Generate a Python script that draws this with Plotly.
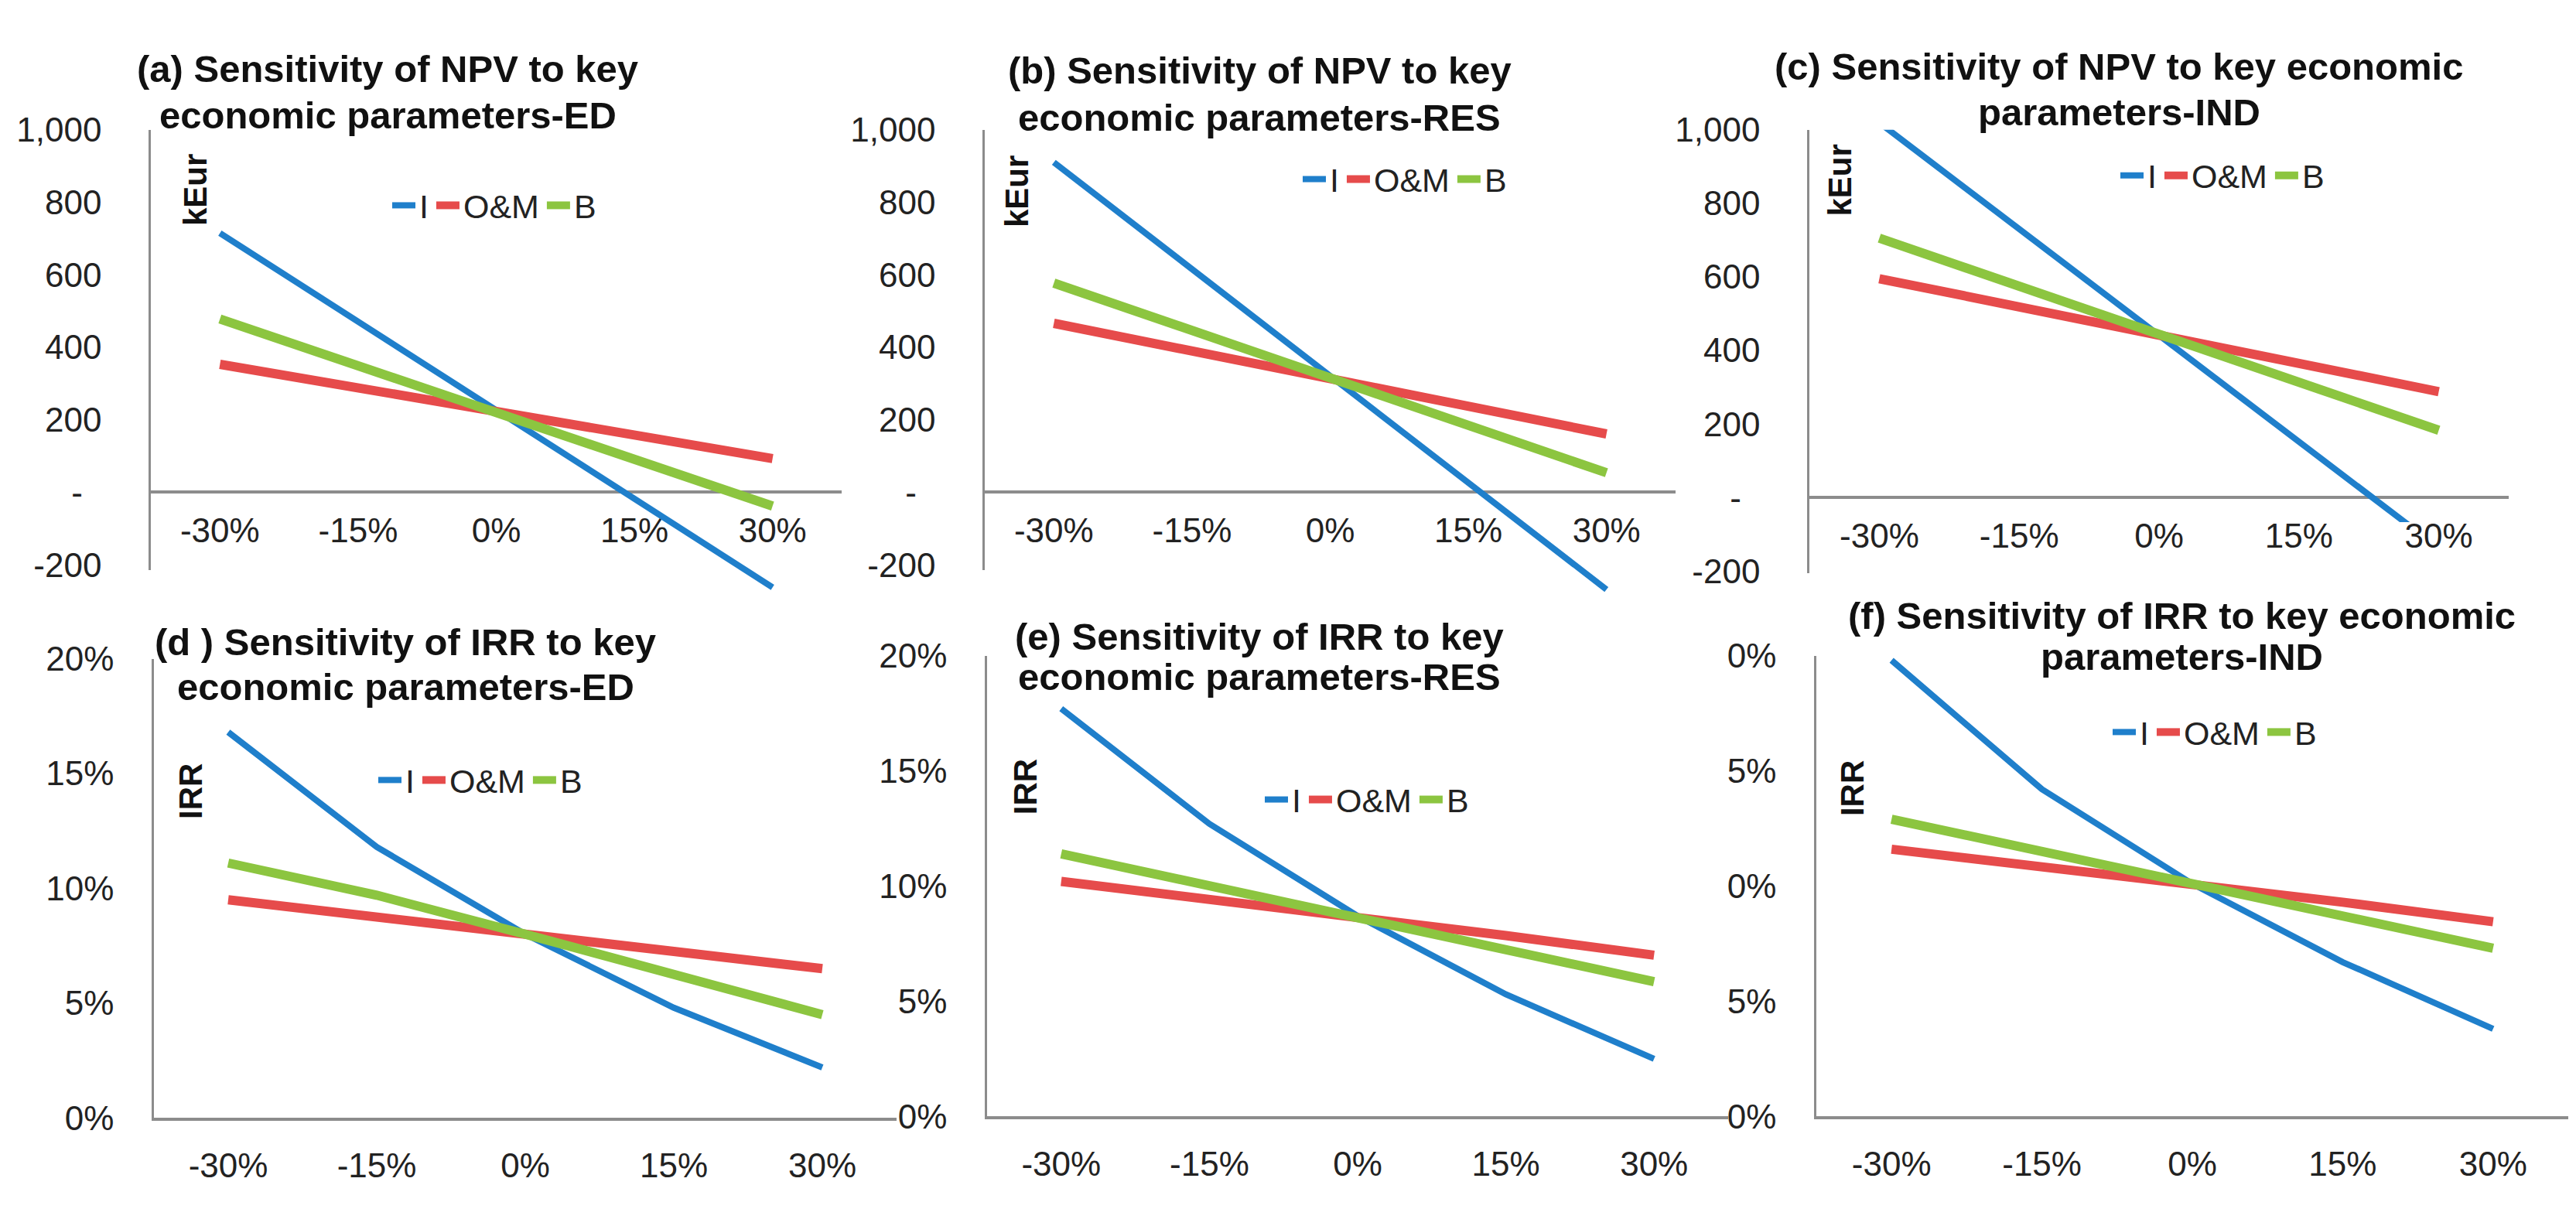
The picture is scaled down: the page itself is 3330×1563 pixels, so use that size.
import plotly.graph_objects as go

# ---------------- data ----------------
categories = ["-30%", "-15%", "0%", "15%", "30%"]
series_names = ["I", "O&M", "B"]

# NPV, kEur
npv_ed_I = [715, 470, 225, -20, -262]
npv_ed_OM = [353, 288, 223, 158, 93]
npv_ed_B = [478, 349, 220, 91, -38]

npv_res_I = [910, 615, 320, 25, -268]
npv_res_OM = [466, 390, 313, 237, 161]
npv_res_B = [577, 446, 315, 185, 54]

npv_ind_I = [1019, 730, 441, 152, -137]
npv_ind_OM = [595, 518, 441, 365, 288]
npv_ind_B = [705, 575, 444, 314, 183]

# IRR, %
irr_ed_I = [16.8, 11.8, 8.0, 4.8, 2.2]
irr_ed_OM = [9.5, 8.8, 8.0, 7.25, 6.5]
irr_ed_B = [11.1, 9.7, 8.0, 6.2, 4.5]

irr_res_I = [17.7, 12.7, 8.7, 5.3, 2.5]
irr_res_OM = [10.2, 9.45, 8.7, 7.85, 7.0]
irr_res_B = [11.4, 10.0, 8.7, 7.2, 5.85]

irr_ind_I = [19.8, 14.2, 10.1, 6.7, 3.8]
irr_ind_OM = [11.6, 10.85, 10.1, 9.3, 8.45]
irr_ind_B = [12.9, 11.5, 10.1, 8.7, 7.3]

npv_tickvals = [-200, 0, 200, 400, 600, 800, 1000]
npv_ticktext = ["-200", "-\u00a0\u00a0", "200", "400", "600", "800", "1,000"]
irr_tickvals = [0, 5, 10, 15, 20]
irr_ticktext = ["0%", "5%", "10%", "15%", "20%"]
irr_ticktext_f = ["0%", "5%", "0%", "5%", "0%"]  # as visible (clipped) in the picture

titles = {
    "a": ["(a) Sensitivity of NPV to key", "economic parameters-ED"],
    "b": ["(b) Sensitivity of NPV to key", "economic parameters-RES"],
    "c": ["(c) Sensitivity of NPV to key economic", "parameters-IND"],
    "d": ["(d ) Sensitivity of IRR to key", "economic parameters-ED"],
    "e": ["(e) Sensitivity of IRR to key", "economic parameters-RES"],
    "f": ["(f) Sensitivity of IRR to key economic", "parameters-IND"],
}

# ---------------- layout / styling ----------------
W, H = 3330, 1563
def fx(p):
    return p / W
def fy(p):
    return 1 - p / H

COLORS = {"I": "#1F7FCB", "O&M": "#E64B4B", "B": "#8CC540"}
WIDTHS = {"I": 8, "O&M": 12, "B": 12}
FONT = "Liberation Sans, Arial, sans-serif"
TXT = "#222222"
AXC = "#8C8C8C"

NPV_HI = 1000
IRR_LO, IRR_HI = 0, 20

# ax_lo: where the drawn value axis stops; data_lo: where the plotted lines get clipped
panels = [
    dict(k="a", kind="npv", data=[npv_ed_I, npv_ed_OM, npv_ed_B], x0=187, x1=1080, top=139, zero=623,
         ax_lo=-214, data_lo=-280,
         tcx=493, tb=(75, 137), ylab="kEur", ylx=244, yly=220, lgx=494, lgy=240),
    dict(k="b", kind="npv", data=[npv_res_I, npv_res_OM, npv_res_B], x0=1265, x1=2158, top=139, zero=623,
         ax_lo=-214, data_lo=-280,
         tcx=1620, tb=(78, 140), ylab="kEur", ylx=1306, yly=222, lgx=1671, lgy=205),
    dict(k="c", kind="npv", data=[npv_ind_I, npv_ind_OM, npv_ind_B], x0=2331, x1=3235, top=139, zero=630,
         ax_lo=-205, data_lo=-67,
         tcx=2731, tb=(72, 133), ylab="kEur", ylx=2371, yly=207, lgx=2728, lgy=200),
    dict(k="d", kind="irr", data=[irr_ed_I, irr_ed_OM, irr_ed_B], x0=191, x1=1151, top=845, zero=1458,
         tcx=516, tb=(840, 900), ylab="IRR", ylx=239, yly=1022, lgx=476, lgy=1007),
    dict(k="e", kind="irr", data=[irr_res_I, irr_res_OM, irr_res_B], x0=1268, x1=2226, top=841, zero=1456,
         tcx=1620, tb=(833, 887), ylab="IRR", ylx=1317, yly=1016, lgx=1622, lgy=1033),
    dict(k="f", kind="irr", data=[irr_ind_I, irr_ind_OM, irr_ind_B], x0=2340, x1=3312, top=841, zero=1456,
         tcx=2812, tb=(805, 860), ylab="IRR", ylx=2386, yly=1018, lgx=2718, lgy=943),
]

fig = go.Figure()
layout = dict(
    width=W, height=H, autosize=False,
    margin=dict(l=0, r=0, t=0, b=0, pad=0),
    paper_bgcolor="white", plot_bgcolor="rgba(0,0,0,0)",
    font=dict(family=FONT, size=44, color=TXT),
    showlegend=True,
)
annotations = []

TICKFONT = dict(size=44, color=TXT, family=FONT)
TITLE_SIZE = 49
extra = 7  # next free axis index for the hidden data axes of NPV panels

for i, p in enumerate(panels, start=1):
    sfx = str(i) if i > 1 else ""
    xa, ya = "xaxis" + sfx, "yaxis" + sfx
    xr, yr = "x" + sfx, "y" + sfx
    xdom = [fx(p["x0"]), fx(p["x1"])]
    cat_x = dict(type="category", categoryorder="array", categoryarray=categories, range=[-0.5, 4.5])
    if p["kind"] == "npv":
        scale = (p["zero"] - p["top"]) / NPV_HI
        ax_bot_px = p["zero"] - p["ax_lo"] * scale
        layout[ya] = dict(domain=[fy(ax_bot_px), fy(p["top"])], range=[p["ax_lo"], NPV_HI], anchor=xr,
                          showgrid=False, tickvals=npv_tickvals, ticktext=npv_ticktext, ticks="",
                          showline=True, linecolor=AXC, linewidth=2.5,
                          zeroline=True, zerolinecolor=AXC, zerolinewidth=4,
                          ticklabelstandoff=52, tickfont=TICKFONT)
        layout[xa] = dict(domain=xdom, anchor="free", position=fy(p["zero"]), showline=False,
                          showgrid=False, zeroline=False, ticks="", ticklabelstandoff=20,
                          tickfont=TICKFONT, **cat_x)
        # empty trace so that the visible axes of this panel are built
        fig.add_trace(go.Scatter(x=[], y=[], xaxis=xr, yaxis=yr, showlegend=False, hoverinfo="skip"))
        # hidden data axes with the same scale, so the lines are clipped where the picture clips them
        data_bot_px = p["zero"] - p["data_lo"] * scale
        dsfx = str(extra)
        layout["xaxis" + dsfx] = dict(domain=xdom, anchor="y" + dsfx, visible=False, **cat_x)
        layout["yaxis" + dsfx] = dict(domain=[fy(data_bot_px), fy(p["top"])], range=[p["data_lo"], NPV_HI],
                                      anchor="x" + dsfx, visible=False)
        dx, dy = "x" + dsfx, "y" + dsfx
        extra += 1
    else:
        layout[ya] = dict(domain=[fy(p["zero"]), fy(p["top"])], range=[IRR_LO, IRR_HI], anchor=xr,
                          showgrid=False, tickvals=irr_tickvals,
                          ticktext=irr_ticktext_f if p["k"] == "f" else irr_ticktext,
                          ticks="", showline=True, linecolor=AXC, linewidth=2.5, zeroline=False,
                          ticklabelstandoff=40, tickfont=TICKFONT)
        layout[xa] = dict(domain=xdom, anchor=yr, showline=True, linecolor=AXC, linewidth=4,
                          showgrid=False, zeroline=False, ticks="", ticklabelstandoff=20,
                          tickfont=TICKFONT, **cat_x)
        dx, dy = xr, yr

    leg = "legend" if i == 1 else f"legend{i}"
    layout[leg] = dict(orientation="h", x=fx(p["lgx"]), y=fy(p["lgy"]), xanchor="left", yanchor="middle",
                       bgcolor="rgba(0,0,0,0)", font=dict(size=43, color=TXT, family=FONT),
                       itemwidth=30, tracegroupgap=0)

    for name, vals in zip(series_names, p["data"]):
        fig.add_trace(go.Scatter(x=categories, y=vals, mode="lines", name=name,
                                 line=dict(color=COLORS[name], width=WIDTHS[name]),
                                 xaxis=dx, yaxis=dy, legend=leg, hoverinfo="x+y+name"))

    for line_txt, base in zip(titles[p["k"]], p["tb"]):
        annotations.append(dict(text=f"<b>{line_txt}</b>", xref="paper", yref="paper",
                                x=fx(p["tcx"]), y=fy(base - 0.36 * TITLE_SIZE),
                                xanchor="center", yanchor="middle", showarrow=False,
                                font=dict(size=TITLE_SIZE, color="#111111", family=FONT)))
    annotations.append(dict(text=f"<b>{p['ylab']}</b>", xref="paper", yref="paper",
                            x=fx(p["ylx"]), y=fy(p["yly"]),
                            xanchor="center", yanchor="middle", textangle=-90, showarrow=False,
                            font=dict(size=42, color="#111111", family=FONT)))

layout["annotations"] = annotations
fig.update_layout(**layout)
fig.write_html("out.html")
